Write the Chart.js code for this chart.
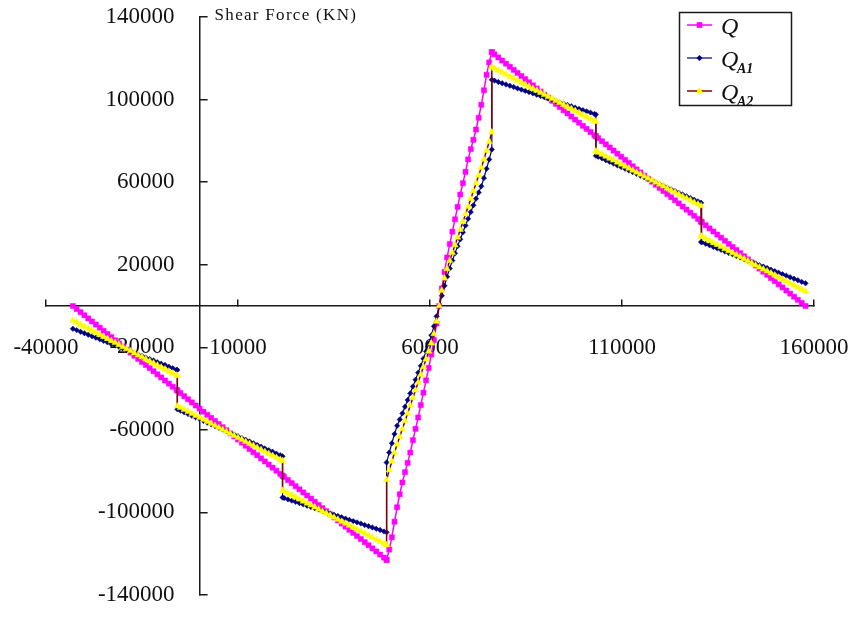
<!DOCTYPE html>
<html>
<head>
<meta charset="utf-8">
<script src="https://cdn.jsdelivr.net/npm/chart.js@4/dist/chart.umd.min.js"></script>
<style>
html,body{margin:0;padding:0;background:#fff;}
canvas{display:block;}
</style>
</head>
<body>
<canvas id="chart" width="854" height="619"></canvas>
<script>
// ---- data ----
const xPositions = [
  -33000,-32000,-31000,-30000,-29000,-28000,-27000,-26000,-25000,-24000,-23000,-22000,-21000,-20000,-19000,-18000,-17000,-16000,-15000,-14000,-13000,-12000,-11000,-10000,-9000,-8000,-7000,-6000,-5800,
  -5800,-5000,-4000,-3000,-2000,-1000,0,1000,2000,3000,4000,5000,6000,7000,8000,9000,10000,11000,12000,13000,14000,15000,16000,17000,18000,19000,20000,21000,21600,
  21600,22000,23000,24000,25000,26000,27000,28000,29000,30000,31000,32000,33000,34000,35000,36000,37000,38000,39000,40000,41000,42000,43000,44000,45000,46000,47000,48000,48700,
  48700,49385,50070,50755,51440,52125,52810,53495,54180,54865,55550,56235,56920,57605,58290,58975,59660,60345,61030,61715,62400,63085,63770,64455,65140,65825,66510,67195,67880,68565,69250,69935,70620,71305,71990,72675,73360,74045,74730,75415,76100,
  76100,76800,77800,78800,79800,80800,81800,82800,83800,84800,85800,86800,87800,88800,89800,90800,91800,92800,93800,94800,95800,96800,97800,98800,99800,100800,101800,102800,103200,
  103200,103800,104800,105800,106800,107800,108800,109800,110800,111800,112800,113800,114800,115800,116800,117800,118800,119800,120800,121800,122800,123800,124800,125800,126800,127800,128800,129800,130600,
  130600,130800,131800,132800,133800,134800,135800,136800,137800,138800,139800,140800,141800,142800,143800,144800,145800,146800,147800,148800,149800,150800,151800,152800,153800,154800,155800,156800,157800
];
const qValues = [
  0,-1500,-3000,-4500,-6000,-7500,-9000,-10500,-12000,-13500,-15100,-16600,-18100,-19600,-21100,-22600,-24100,-25600,-27100,-28600,-30100,-31600,-33100,-34600,-36100,-37600,-39100,-40600,-40900,
  -40900,-42200,-43700,-45200,-46700,-48200,-49700,-51200,-52700,-54200,-55700,-57200,-58700,-60200,-61700,-63200,-64700,-66200,-67700,-69300,-70800,-72300,-73800,-75300,-76800,-78300,-79800,-81300,-82200,
  -82200,-82800,-84300,-85800,-87300,-88800,-90300,-91800,-93300,-94800,-96400,-97900,-99400,-100900,-102400,-103900,-105400,-106900,-108400,-109900,-111400,-112900,-114400,-115900,-117400,-118900,-120400,-121900,-123000,
  -123000,-118000,-112000,-104500,-97500,-91200,-85500,-80500,-76000,-71000,-65000,-59500,-54000,-48000,-42000,-36000,-30000,-23500,-16500,-8500,0,8500,16500,23500,30000,36000,42000,48000,54000,59500,65000,71000,76000,80500,85500,91200,97500,104500,112000,118000,123000,
  123000,121900,120400,118900,117400,115900,114400,112900,111400,109900,108400,106900,105400,103900,102400,100900,99400,97900,96400,94800,93300,91800,90300,88800,87300,85800,84300,82800,82200,
  82200,81300,79800,78300,76800,75300,73800,72300,70800,69300,67700,66200,64700,63200,61700,60200,58700,57200,55700,54200,52700,51200,49700,48200,46700,45200,43700,42200,40900,
  40900,40600,39100,37600,36100,34600,33100,31600,30100,28600,27100,25600,24100,22600,21100,19600,18100,16600,15100,13500,12000,10500,9000,7500,6000,4500,3000,1500,0
];
const qA1Values = [
  -11000,-11700,-12500,-13200,-13900,-14700,-15400,-16100,-16900,-17600,-18400,-19100,-19800,-20600,-21300,-22000,-22800,-23500,-24200,-25000,-25700,-26400,-27200,-27900,-28600,-29400,-30100,-30900,-31000,
  -50000,-50700,-51500,-52300,-53200,-54000,-54800,-55700,-56500,-57300,-58200,-59000,-59800,-60700,-61500,-62300,-63100,-64000,-64800,-65600,-66500,-67300,-68100,-69000,-69800,-70600,-71500,-72300,-72800,
  -92800,-93000,-93700,-94300,-94900,-95500,-96100,-96800,-97400,-98000,-98600,-99200,-99900,-100500,-101100,-101700,-102300,-103000,-103600,-104200,-104800,-105400,-106100,-106700,-107300,-107900,-108500,-109200,-109600,
  -75800,-71000,-66500,-62000,-58000,-55000,-52000,-48800,-45500,-42300,-39000,-35700,-32300,-29000,-25500,-22000,-18200,-14200,-9800,-5000,0,5000,9800,14200,18200,22000,25500,29000,32300,35700,39000,42300,45500,48800,52000,55000,58000,62000,66500,71000,75800,
  109600,109200,108500,107900,107300,106700,106100,105400,104800,104200,103600,103000,102300,101700,101100,100500,99900,99200,98600,98000,97400,96800,96100,95500,94900,94300,93700,93000,92800,
  72800,72300,71500,70600,69800,69000,68100,67300,66500,65600,64800,64000,63100,62300,61500,60700,59800,59000,58200,57300,56500,55700,54800,54000,53200,52300,51500,50700,50000,
  31000,30900,30100,29400,28600,27900,27200,26400,25700,25000,24200,23500,22800,22000,21300,20600,19800,19100,18400,17600,16900,16100,15400,14700,13900,13200,12500,11700,11000
];
const qA2Values = [
  -7000,-8000,-9000,-10000,-10900,-11900,-12900,-13900,-14900,-15900,-16900,-17800,-18800,-19800,-20800,-21800,-22800,-23800,-24700,-25700,-26700,-27700,-28700,-29700,-30600,-31600,-32600,-33600,-33800,
  -48500,-49300,-50200,-51200,-52200,-53100,-54100,-55100,-56000,-57000,-58000,-58900,-59900,-60900,-61800,-62800,-63800,-64700,-65700,-66700,-67600,-68600,-69600,-70600,-71500,-72500,-73500,-74400,-75000,
  -89300,-89700,-90700,-91600,-92600,-93600,-94600,-95600,-96500,-97500,-98500,-99500,-100400,-101400,-102400,-103400,-104400,-105300,-106300,-107300,-108300,-109200,-110200,-111200,-112200,-113200,-114100,-115100,-115800,
  -84200,-79500,-75300,-71000,-67000,-63300,-59500,-55700,-52000,-48200,-44500,-40800,-37000,-33200,-29500,-25800,-22000,-18000,-13500,-7500,0,7500,13500,18000,22000,25800,29500,33200,37000,40800,44500,48200,52000,55700,59500,63300,67000,71000,75300,79500,84200,
  115800,115100,114100,113200,112200,111200,110200,109200,108300,107300,106300,105300,104400,103400,102400,101400,100400,99500,98500,97500,96500,95600,94600,93600,92600,91600,90700,89700,89300,
  75000,74400,73500,72500,71500,70600,69600,68600,67600,66700,65700,64700,63800,62800,61800,60900,59900,58900,58000,57000,56000,55100,54100,53100,52200,51200,50200,49300,48500,
  33800,33600,32600,31600,30600,29700,28700,27700,26700,25700,24700,23800,22800,21800,20800,19800,18800,17800,16900,15900,14900,13900,12900,11900,10900,10000,9000,8000,7000
];
const xTickValues = [-40000, 10000, 60000, 110000, 160000];
const yTickValues = [140000, 100000, 60000, 20000, -20000, -60000, -100000, -140000];
const seriesMain = ['Q', 'Q', 'Q'];
const seriesSub = ['', 'A1', 'A2'];
const yAxisTitle = 'Shear Force (KN)';

// ---- chart ----
const toPoints = vals => xPositions.map((x, i) => ({ x: x, y: vals[i] }));
const AXIS = '#1a1a1a';
const tickFont = { family: '"Liberation Serif", "Times New Roman", serif', size: 23 };

function drawMarker(ctx, style, x, y, r, color) {
  ctx.fillStyle = color;
  ctx.beginPath();
  if (style === 'rect') {
    const s = r * Math.SQRT1_2;
    ctx.rect(x - s, y - s, 2 * s, 2 * s);
  } else if (style === 'rectRot') {
    ctx.moveTo(x, y - r); ctx.lineTo(x + r, y); ctx.lineTo(x, y + r); ctx.lineTo(x - r, y); ctx.closePath();
  } else {
    let a = 0;
    ctx.moveTo(x + Math.sin(a) * r, y - Math.cos(a) * r);
    a += 2 * Math.PI / 3; ctx.lineTo(x + Math.sin(a) * r, y - Math.cos(a) * r);
    a += 2 * Math.PI / 3; ctx.lineTo(x + Math.sin(a) * r, y - Math.cos(a) * r);
    ctx.closePath();
  }
  ctx.fill();
}

const axisCross = {
  id: 'axisCross',
  afterLayout(chart) {
    const px = chart.scales.x.getPixelForValue(0);
    chart.scales.y.left = 0;
    chart.scales.y.right = px;
    chart.scales.y.width = px;
  },
  afterDraw(chart) {
    const ctx = chart.ctx;
    const px = chart.scales.x.getPixelForValue(0);
    const top = chart.scales.y.getPixelForValue(140000);
    ctx.save();
    // axis title
    ctx.fillStyle = '#111';
    ctx.font = '17px "Liberation Serif", serif';
    try { ctx.letterSpacing = '1.3px'; } catch (e) {}
    ctx.textAlign = 'left';
    ctx.textBaseline = 'alphabetic';
    ctx.fillText(yAxisTitle, px + 15, top + 3);
    try { ctx.letterSpacing = '0px'; } catch (e) {}
    // legend
    const bx = 679.5, by = 12.5, bw = 112, bh = 93;
    ctx.fillStyle = '#fff';
    ctx.fillRect(bx, by, bw, bh);
    ctx.strokeStyle = AXIS;
    ctx.lineWidth = 1.5;
    ctx.strokeRect(bx, by, bw, bh);
    chart.data.datasets.forEach((ds, i) => {
      const y = 25 + i * 33;
      ctx.strokeStyle = ds.borderColor;
      ctx.lineWidth = ds.borderWidth;
      ctx.beginPath(); ctx.moveTo(687, y); ctx.lineTo(712, y); ctx.stroke();
      drawMarker(ctx, ds.pointStyle, 699.5, y, ds.pointRadius + 0.4, ds.pointBackgroundColor);
      ctx.fillStyle = '#111';
      ctx.font = 'italic 24px "Liberation Serif", serif';
      ctx.fillText(seriesMain[i], 721, y + 9);
      if (seriesSub[i]) {
        ctx.font = 'italic bold 14px "Liberation Serif", serif';
        ctx.fillText(seriesSub[i], 737, y + 15);
      }
    });
    ctx.restore();
  }
};

new Chart(document.getElementById('chart'), {
  type: 'line',
  data: {
    datasets: [
      { label: 'Q', data: toPoints(qValues), borderColor: '#FF00FF', backgroundColor: '#FF00FF',
        pointBackgroundColor: '#FF00FF', pointBorderColor: '#FF00FF', borderWidth: 1.5,
        pointStyle: 'rect', pointRadius: 3.6, pointBorderWidth: 0.5, tension: 0, order: 3 },
      { label: 'QA1', data: toPoints(qA1Values), borderColor: '#000080', backgroundColor: '#000080',
        pointBackgroundColor: '#000080', pointBorderColor: '#000080', borderWidth: 1.2,
        pointStyle: 'rectRot', pointRadius: 2.7, pointBorderWidth: 0.5, tension: 0, order: 2 },
      { label: 'QA2', data: toPoints(qA2Values), borderColor: '#800000', backgroundColor: '#FFFF00',
        pointBackgroundColor: '#FFFF00', pointBorderColor: '#FFFF00', borderWidth: 1.5,
        pointStyle: 'triangle', pointRadius: 3.7, pointBorderWidth: 0.5, tension: 0, order: 1 }
    ]
  },
  options: {
    responsive: false,
    animation: false,
    devicePixelRatio: 1,
    events: [],
    layout: { padding: { left: 46, right: 40, top: 17, bottom: 24 } },
    plugins: { legend: { display: false }, tooltip: { enabled: false }, title: { display: false } },
    scales: {
      x: {
        type: 'linear', position: { y: 0 }, min: -40000, max: 160000,
        afterBuildTicks: s => { s.ticks = xTickValues.map(v => ({ value: v })); },
        afterFit: s => { s.paddingLeft = 0; s.paddingRight = 0; },
        grid: { drawOnChartArea: false, drawTicks: true, tickLength: -7, color: AXIS, lineWidth: 1.5 },
        border: { display: true, color: AXIS, width: 1.5 },
        ticks: { padding: 35, maxRotation: 0, minRotation: 0, autoSkip: false, color: '#111', font: tickFont,
                 callback: v => String(v) }
      },
      y: {
        type: 'linear', position: 'left', min: -140000, max: 140000,
        afterBuildTicks: s => { s.ticks = yTickValues.map(v => ({ value: v })); },
        afterFit: s => { s.width = 0; s.paddingTop = 0; s.paddingBottom = 0; },
        grid: { drawOnChartArea: false, drawTicks: true, tickLength: -8, color: AXIS, lineWidth: 1.5 },
        border: { display: true, color: AXIS, width: 1.5 },
        ticks: { padding: 33, autoSkip: false, color: '#111', font: tickFont, callback: v => String(v) }
      }
    }
  },
  plugins: [axisCross]
});
</script>
</body>
</html>
